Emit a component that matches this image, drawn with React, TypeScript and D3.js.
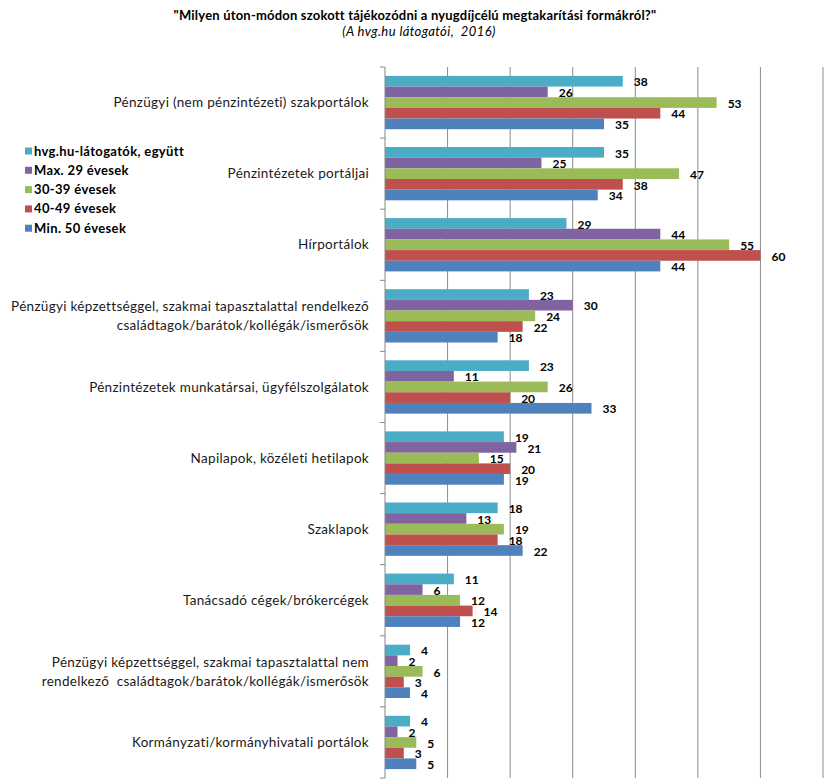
import * as React from "react";
import * as d3 from "d3";

const W = 829;
const H = 783;

const categories = [
  "Pénzügyi (nem pénzintézeti) szakportálok",
  "Pénzintézetek portáljai",
  "Hírportálok",
  "Pénzügyi képzettséggel, szakmai tapasztalattal rendelkező|családtagok/barátok/kollégák/ismerősök",
  "Pénzintézetek munkatársai, ügyfélszolgálatok",
  "Napilapok, közéleti hetilapok",
  "Szaklapok",
  "Tanácsadó cégek/brókercégek",
  "Pénzügyi képzettséggel, szakmai tapasztalattal nem|rendelkező  családtagok/barátok/kollégák/ismerősök",
  "Kormányzati/kormányhivatali portálok",
];

const seriesNames = [
  "hvg.hu-látogatók, együtt",
  "Max. 29 évesek",
  "30-39 évesek",
  "40-49 évesek",
  "Min. 50 évesek",
];

const seriesColors = ["#4BACC6", "#8064A2", "#9BBB59", "#C0504D", "#4F81BD"];

const osszes = [38, 35, 29, 23, 23, 19, 18, 11, 4, 4];
const max29 = [26, 25, 44, 30, 11, 21, 13, 6, 2, 2];
const kor3039 = [53, 47, 55, 24, 26, 15, 19, 12, 6, 5];
const kor4049 = [44, 38, 60, 22, 20, 20, 18, 14, 3, 3];
const min50 = [35, 34, 44, 18, 33, 19, 22, 12, 4, 5];

const seriesValues = [osszes, max29, kor3039, kor4049, min50];

const xTicks = [0, 10, 20, 30, 40, 50, 60, 70];

const FONT = "Lato, 'Open Sans', sans-serif";

export default function App() {
  const x = d3.scaleLinear().domain([0, 70]).range([385, 823]);
  const y = d3
    .scaleBand<number>()
    .domain(d3.range(categories.length))
    .range([67, 778])
    .paddingInner(0.25)
    .paddingOuter(0.125);
  const sub = d3
    .scaleBand<number>()
    .domain(d3.range(seriesNames.length))
    .range([0, y.bandwidth()]);
  const step = y.step();
  const top = 67;
  const bottom = 778;

  return (
    <svg
      width={W}
      height={H}
      style={{ position: "absolute", left: 0, top: 0, background: "#fff" }}
      fontFamily={FONT}
    >
      {/* title */}
      <text x={415} y={20} textAnchor="middle" fontSize={13} fontWeight="bold" letterSpacing={0.2}>
        "Milyen úton-módon szokott tájékozódni a nyugdíjcélú megtakarítási formákról?"
      </text>
      <text
        x={419}
        y={36}
        textAnchor="middle"
        fontSize={13}
        fontStyle="italic"
        letterSpacing={0.4}
        style={{ whiteSpace: "pre" }}
      >
        (A hvg.hu látogatói,  2016)
      </text>

      {/* gridlines */}
      {xTicks.slice(1).map((t) => (
        <line key={t} x1={x(t)} x2={x(t)} y1={top} y2={bottom} stroke="#8c8c8c" strokeWidth={1} />
      ))}

      {/* bars */}
      {seriesValues.map((vals, s) =>
        vals.map((v, i) => (
          <rect
            key={`${s}-${i}`}
            x={x(0)}
            y={y(i)! + sub(s)!}
            width={x(v) - x(0)}
            height={sub.bandwidth()}
            fill={seriesColors[s]}
          />
        )),
      )}

      {/* value labels */}
      {seriesValues.map((vals, s) =>
        vals.map((v, i) => (
          <text
            key={`l-${s}-${i}`}
            x={x(v) + 11}
            y={y(i)! + sub(s)! + sub.bandwidth() / 2 + 1}
            dy="0.35em"
            fontSize={12}
            fontWeight="bold"
          >
            {v}
          </text>
        )),
      )}

      {/* axis */}
      <line x1={x(0)} x2={x(0)} y1={top} y2={bottom} stroke="#868686" />
      {d3.range(categories.length + 1).map((k) => (
        <line
          key={`t-${k}`}
          x1={x(0) - 5}
          x2={x(0)}
          y1={top + k * step}
          y2={top + k * step}
          stroke="#868686"
        />
      ))}

      {/* category labels */}
      {categories.map((c, i) => {
        const lines = c.split("|");
        const cy = y(i)! + y.bandwidth() / 2;
        return (
          <text
            key={`c-${i}`}
            x={369}
            textAnchor="end"
            fontSize={13.5}
            letterSpacing={0.3}
            fill="#1a1a1a"
          >
            {lines.map((ln, j) => (
              <tspan
                key={j}
                x={369}
                y={cy + (j - (lines.length - 1) / 2) * 19}
                dy="0.35em"
                style={{ whiteSpace: "pre" }}
              >
                {ln}
              </tspan>
            ))}
          </text>
        );
      })}

      {/* legend */}
      {seriesNames.map((n, s) => {
        const ly = 151 + s * 19.3;
        return (
          <g key={`lg-${s}`}>
            <rect x={25} y={ly - 3.5} width={7} height={7} fill={seriesColors[s]} />
            <text x={34} y={ly} dy="0.35em" fontSize={13} fontWeight="bold" letterSpacing={0.35}>
              {n}
            </text>
          </g>
        );
      })}
    </svg>
  );
}
